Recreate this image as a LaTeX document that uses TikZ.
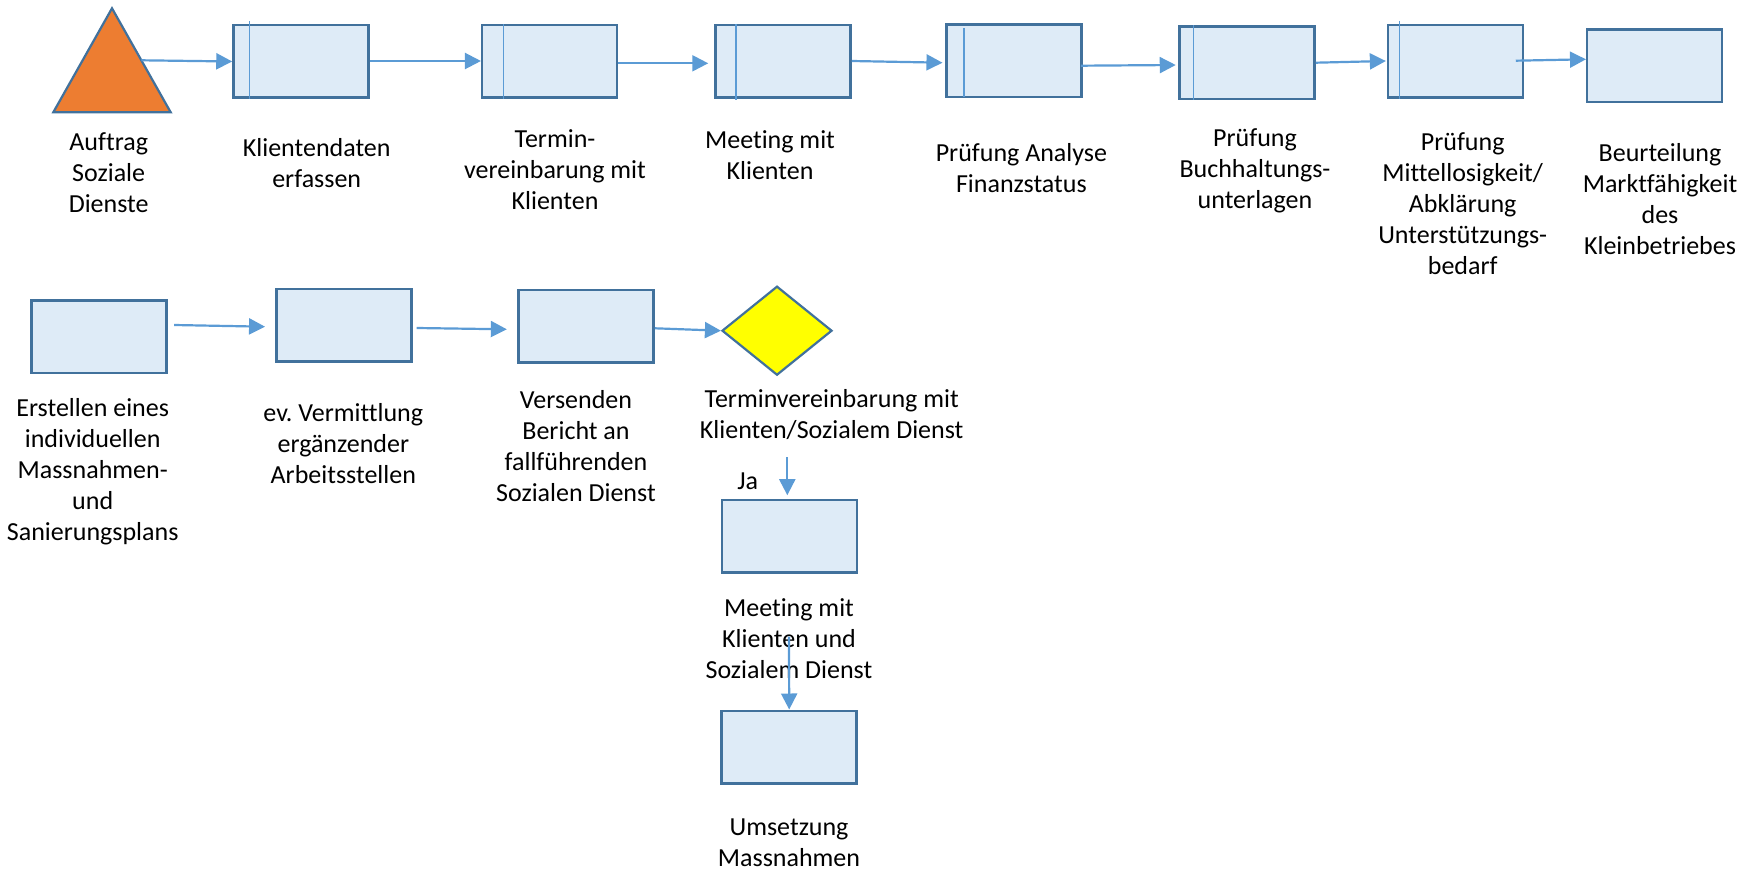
\documentclass[tikz,border=0pt]{standalone}
\usepackage{fontspec}
\setmainfont{Carlito}[Ligatures=NoCommon]
\usetikzlibrary{arrows.meta,shapes.geometric}
\definecolor{boxfill}{HTML}{DEEBF7}
\definecolor{boxline}{HTML}{41719C}
\definecolor{arrowc}{HTML}{5B9BD5}
\definecolor{orangefill}{HTML}{ED7D31}
\definecolor{yellowfill}{HTML}{FFFF00}
\frenchspacing
\tikzset{
  procbox/.style={rectangle, draw=boxline, fill=boxfill, line width=2.5pt,
    minimum width=135pt, minimum height=72.5pt, inner sep=0pt},
  innerline/.style={draw=arrowc, line width=1.2pt},
  flowarrow/.style={draw=arrowc, line width=2.2pt,
    -{Triangle[length=16pt,width=16pt]}},
  lbl/.style={align=center, inner sep=0pt, font=\fontsize{26}{31}\selectfont},
  decision/.style={diamond, draw=boxline, fill=yellowfill, line width=2.2pt,
    minimum width=110pt, minimum height=89pt, aspect=1.23, inner sep=0pt},
}
\begin{document}
\begin{tikzpicture}[x=1pt,y=-1pt]
\useasboundingbox (0,0) rectangle (1743,872);
% start triangle
\coordinate (tA) at (112,8.3);
\coordinate (tR) at (170.7,112.3);
\coordinate (tL) at (53.3,112.3);
\path[draw=boxline, fill=orangefill, line width=2.2pt, line join=miter] (tA) -- (tR) -- (tL) -- cycle;
\coordinate (triout) at (141.4,60.3);
% top row boxes
\node[procbox] (b1) at (301,61.5) {};
\node[procbox] (b2) at (549.7,61.5) {};
\node[procbox] (b3) at (783,61.5) {};
\node[procbox] (b4) at (1014.2,60.7) {};
\node[procbox] (b5) at (1247,62.8) {};
\node[procbox] (b6) at (1455.3,61.2) {};
\node[procbox] (b7) at (1654.7,65.8) {};
% inner vertical lines
\draw[innerline] ([xshift=17pt,yshift=2.5pt]b1.north west) -- ([xshift=17pt]b1.south west);
\draw[innerline] ([xshift=22.5pt]b2.north west) -- ([xshift=22.5pt]b2.south west);
\draw[innerline] ([xshift=21.7pt]b3.north west) -- ([xshift=21.7pt,yshift=-1.5pt]b3.south west);
\draw[innerline] ([xshift=18.6pt,yshift=-5pt]b4.north west) -- ([xshift=18.6pt,yshift=1.5pt]b4.south west);
\draw[innerline] ([xshift=15pt]b5.north west) -- ([xshift=15pt]b5.south west);
\draw[innerline] ([xshift=13.3pt,yshift=2.7pt]b6.north west) -- ([xshift=13.3pt]b6.south west);
% top row labels
\node[lbl] (l0) at (108.7,173) {Auftrag\\Soziale\\Dienste};
\node[lbl] (l1) at (316.7,163.2) {Klientendaten\\erfassen};
\node[lbl] (l2) at (555,169.2) {Termin-\\vereinbarung mit\\Klienten};
\node[lbl] (l3) at (770,155) {Meeting mit\\Klienten};
\node[lbl] (l4) at (1021.4,168.4) {Prüfung Analyse\\Finanzstatus};
\node[lbl] (l5) at (1255,170.7) {Prüfung\\Buchhaltungs-\\unterlagen};
\node[lbl] (l6) at (1462.7,204) {Prüfung\\Mittellosigkeit/\\Abklärung\\Unterstützungs-\\bedarf};
\node[lbl] (l7) at (1660,198.7) {Beurteilung\\Marktfähigkeit\\des\\Kleinbetriebes};
% top row arrows
\draw[flowarrow] (triout) -- (b1.west);
\draw[flowarrow] ([yshift=0.5pt]b1.east) -- ([yshift=0.5pt]b2.west);
\draw[flowarrow] ([yshift=-1.8pt]b2.east) -- ([xshift=-6pt,yshift=-1.8pt]b3.west);
\draw[flowarrow] ([yshift=0.5pt]b3.east) -- ([xshift=-3pt,yshift=-2pt]b4.west);
\draw[flowarrow] ([xshift=-2pt,yshift=-5pt]b4.east) -- ([xshift=-2.5pt,yshift=-2.2pt]b5.west);
\draw[flowarrow] ([yshift=0.1pt]b5.east) -- ([xshift=-0.7pt,yshift=0.2pt]b6.west);
\draw[flowarrow] ([xshift=-8.3pt,yshift=0.5pt]b6.east) -- ([yshift=6.5pt]b7.west);
% second row
\node[procbox] (r1) at (98.8,336.5) {};
\node[procbox] (r2) at (343.8,325) {};
\node[procbox] (r3) at (586.2,326.2) {};
\node[decision] (dia) at (777,330.7) {};
\node[lbl] (lr1) at (92.7,471.3) {Erstellen eines\\individuellen\\Massnahmen-\\und\\Sanierungsplans};
\node[lbl] (lr2) at (343.3,443.3) {ev. Vermittlung\\ergänzender\\Arbeitsstellen};
\node[lbl] (lr3) at (576,445.6) {Versenden\\Bericht an\\fallführenden\\Sozialen Dienst};
\node[lbl] (ldia) at (831.7,414.2) {Terminvereinbarung mit\\Klienten/Sozialem Dienst};
\draw[flowarrow] ([xshift=6.6pt,yshift=11.5pt]r1.east) -- ([xshift=-10pt,yshift=-1.7pt]r2.west);
\draw[flowarrow] ([xshift=4pt,yshift=-3pt]r2.east) -- ([xshift=-10.6pt,yshift=-3.1pt]r3.west);
\draw[flowarrow] ([yshift=-2.1pt]r3.east) -- (dia.west);
% vertical branch
\node[procbox] (d1) at (789.5,536.2) {};
\node[procbox] (e1) at (789.2,747) {};
\node[lbl] (ja) at (747.7,481) {Ja};
\node[lbl] (ld) at (789,639) {Meeting mit\\Klienten und\\Sozialem Dienst};
\node[lbl] (le) at (789,842.5) {Umsetzung\\Massnahmen};
\coordinate (jastart) at (787.3,457.3);
\coordinate (dstart) at (789,636.7);
\draw[flowarrow] (jastart) -- ([xshift=-2.2pt,yshift=3.5pt]d1.north);
\draw[flowarrow] (dstart) -- (e1.north);
\end{tikzpicture}
\end{document}
